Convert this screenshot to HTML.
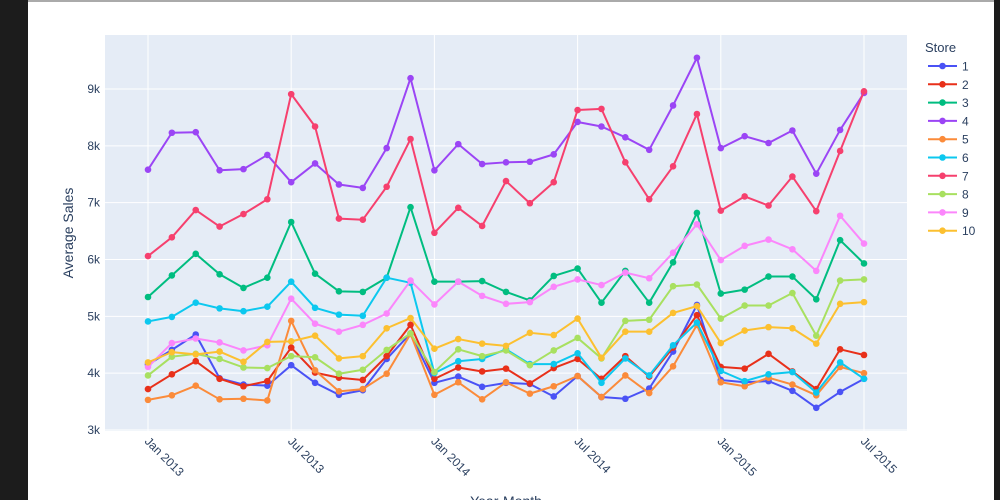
<!DOCTYPE html>
<html><head><meta charset="utf-8"><style>
body{margin:0;width:1000px;height:500px;overflow:hidden;background:#fff;font-family:"Liberation Sans",Arial,sans-serif}
</style></head><body>
<svg id="chart" width="1000" height="500" xmlns="http://www.w3.org/2000/svg" style="position:absolute;left:0;top:0">
<rect x="0" y="0" width="28" height="500" fill="#1c1c1c"/>
<rect x="994" y="0" width="6" height="500" fill="#1c1c1c"/>
<rect x="28" y="0" width="966" height="2" fill="#aaa"/>
<rect x="105" y="35" width="802" height="396" fill="#e5ecf6"/>
<g id="grid"></g>
<g id="series"></g>
<g id="axes"></g>
<text x="73" y="233" transform="rotate(-90 73 233)" text-anchor="middle" font-size="14" fill="#2a3f5f">Average Sales</text>
<text x="506" y="506" text-anchor="middle" font-size="14" fill="#2a3f5f">Year-Month</text>
<g id="legend"><text x="925" y="52" font-size="13" fill="#2a3f5f">Store</text></g>
</svg>
<script>
const stores=['1','2','3','4','5','6','7','8','9','10'];
const colors=['#4a52f5','#e8301a','#00bd80','#9b45f5','#fb8b3a','#0cc8ef','#f6406e','#a8e060','#fb86fb','#fcc030'];
const s1=[4150,4410,4680,3910,3800,3780,4140,3830,3620,3700,4250,4700,3830,3940,3760,3830,3810,3590,3950,3580,3550,3730,4380,5200,3880,3840,3860,3690,3390,3670,3900];
const s2=[3720,3980,4210,3900,3770,3860,4450,4010,3920,3880,4300,4850,3900,4100,4030,4080,3820,4090,4250,3900,4300,3940,4450,5020,4110,4080,4340,4030,3720,4420,4320];
const s3=[5340,5720,6100,5740,5500,5680,6660,5750,5440,5430,5680,6920,5610,5610,5620,5430,5280,5710,5840,5240,5800,5240,5950,6820,5400,5470,5700,5700,5300,6340,5930];
const s4=[7580,8230,8240,7570,7590,7840,7360,7690,7320,7260,7960,9190,7570,8030,7680,7710,7720,7850,8420,8340,8150,7930,8710,9550,7960,8170,8050,8270,7510,8280,8930];
const s5=[3530,3610,3780,3540,3550,3520,4920,4050,3680,3720,3990,4690,3620,3840,3540,3840,3640,3770,3950,3580,3960,3650,4120,4850,3840,3770,3920,3800,3610,4110,4000];
const s6=[4910,4990,5240,5140,5090,5170,5610,5150,5030,5010,5680,5590,4000,4210,4250,4420,4160,4160,4350,3830,4260,3960,4490,4890,4040,3860,3980,4020,3660,4190,3900];
const s7=[6060,6390,6870,6580,6800,7060,8910,8340,6720,6700,7280,8120,6470,6910,6590,7380,6990,7360,8630,8650,7710,7060,7640,8560,6860,7110,6950,7460,6850,7910,8960];
const s8=[3960,4290,4340,4250,4100,4090,4300,4280,3990,4060,4410,4700,4020,4420,4300,4400,4140,4400,4620,4260,4920,4940,5530,5560,4960,5190,5190,5410,4660,5630,5650];
const s9=[4110,4530,4610,4540,4400,4490,5310,4870,4730,4850,5050,5630,5210,5610,5360,5220,5250,5520,5650,5550,5770,5670,6120,6620,5990,6240,6350,6180,5800,6770,6280];
const s10=[4190,4370,4330,4380,4200,4550,4560,4660,4260,4300,4790,4970,4430,4600,4520,4480,4710,4670,4960,4270,4730,4730,5060,5180,4530,4750,4810,4790,4520,5220,5250];
const seriesValues=[s1,s2,s3,s4,s5,s6,s7,s8,s9,s10];
const yTicks=[3000,4000,5000,6000,7000,8000,9000];
const yTickLabels=['3k','4k','5k','6k','7k','8k','9k'];
const xTickIdx=[0,6,12,18,24,30];
const xTickLabels=['Jan 2013','Jul 2013','Jan 2014','Jul 2014','Jan 2015','Jul 2015'];
const NS='http://www.w3.org/2000/svg';
const xs=i=>148+i*(716/30);
const ys=v=>430-(v-3000)*(341/6000);
function mk(t,a,p){const e=document.createElementNS(NS,t);for(const k in a)e.setAttribute(k,a[k]);p.appendChild(e);return e;}
const grid=document.getElementById('grid'),axes=document.getElementById('axes');
yTicks.forEach((v,k)=>{
 const l=mk('line',{x1:105,x2:907,y1:ys(v),y2:ys(v),stroke:'#fff','stroke-width':1},grid);
 
 
 const t=mk('text',{x:100,y:ys(v)+4,'text-anchor':'end','font-size':12,fill:'#2a3f5f'},axes);
 t.textContent=yTickLabels[k];
 
 
});
xTickIdx.forEach((i,k)=>{
 const l=mk('line',{x1:xs(i),x2:xs(i),y1:35,y2:431,stroke:'#fff','stroke-width':1},grid);
 
 
 const x=xs(i)-4,y=442;
 const t=mk('text',{x:x,y:y,transform:`rotate(45 ${x} ${y})`,'font-size':12,fill:'#2a3f5f'},axes);
 t.textContent=xTickLabels[k];
 
 
});
const sg=document.getElementById('series'),lg=document.getElementById('legend');
seriesValues.forEach((vals,s)=>{
 const g=mk('g',{},sg);
 
 
 const pl=mk('polyline',{points:vals.map((v,i)=>xs(i)+','+ys(v)).join(' '),fill:'none',stroke:colors[s],'stroke-width':2,'stroke-linejoin':'round'},g);
 
 
 vals.forEach((v,i)=>{
  const c=mk('circle',{cx:xs(i),cy:ys(v),r:3.3,fill:colors[s]},g);
  
  
 });
 const ly=66+s*18.3;
 const e=mk('g',{},lg);
 
 
 mk('line',{x1:928,x2:957,y1:ly,y2:ly,stroke:colors[s],'stroke-width':2},e);
 mk('circle',{cx:942.5,cy:ly,r:3.3,fill:colors[s]},e);
 const t=mk('text',{x:962,y:ly+4.5,'font-size':12,fill:'#2a3f5f'},e);
 t.textContent=stores[s];
});
</script>
</body></html>
